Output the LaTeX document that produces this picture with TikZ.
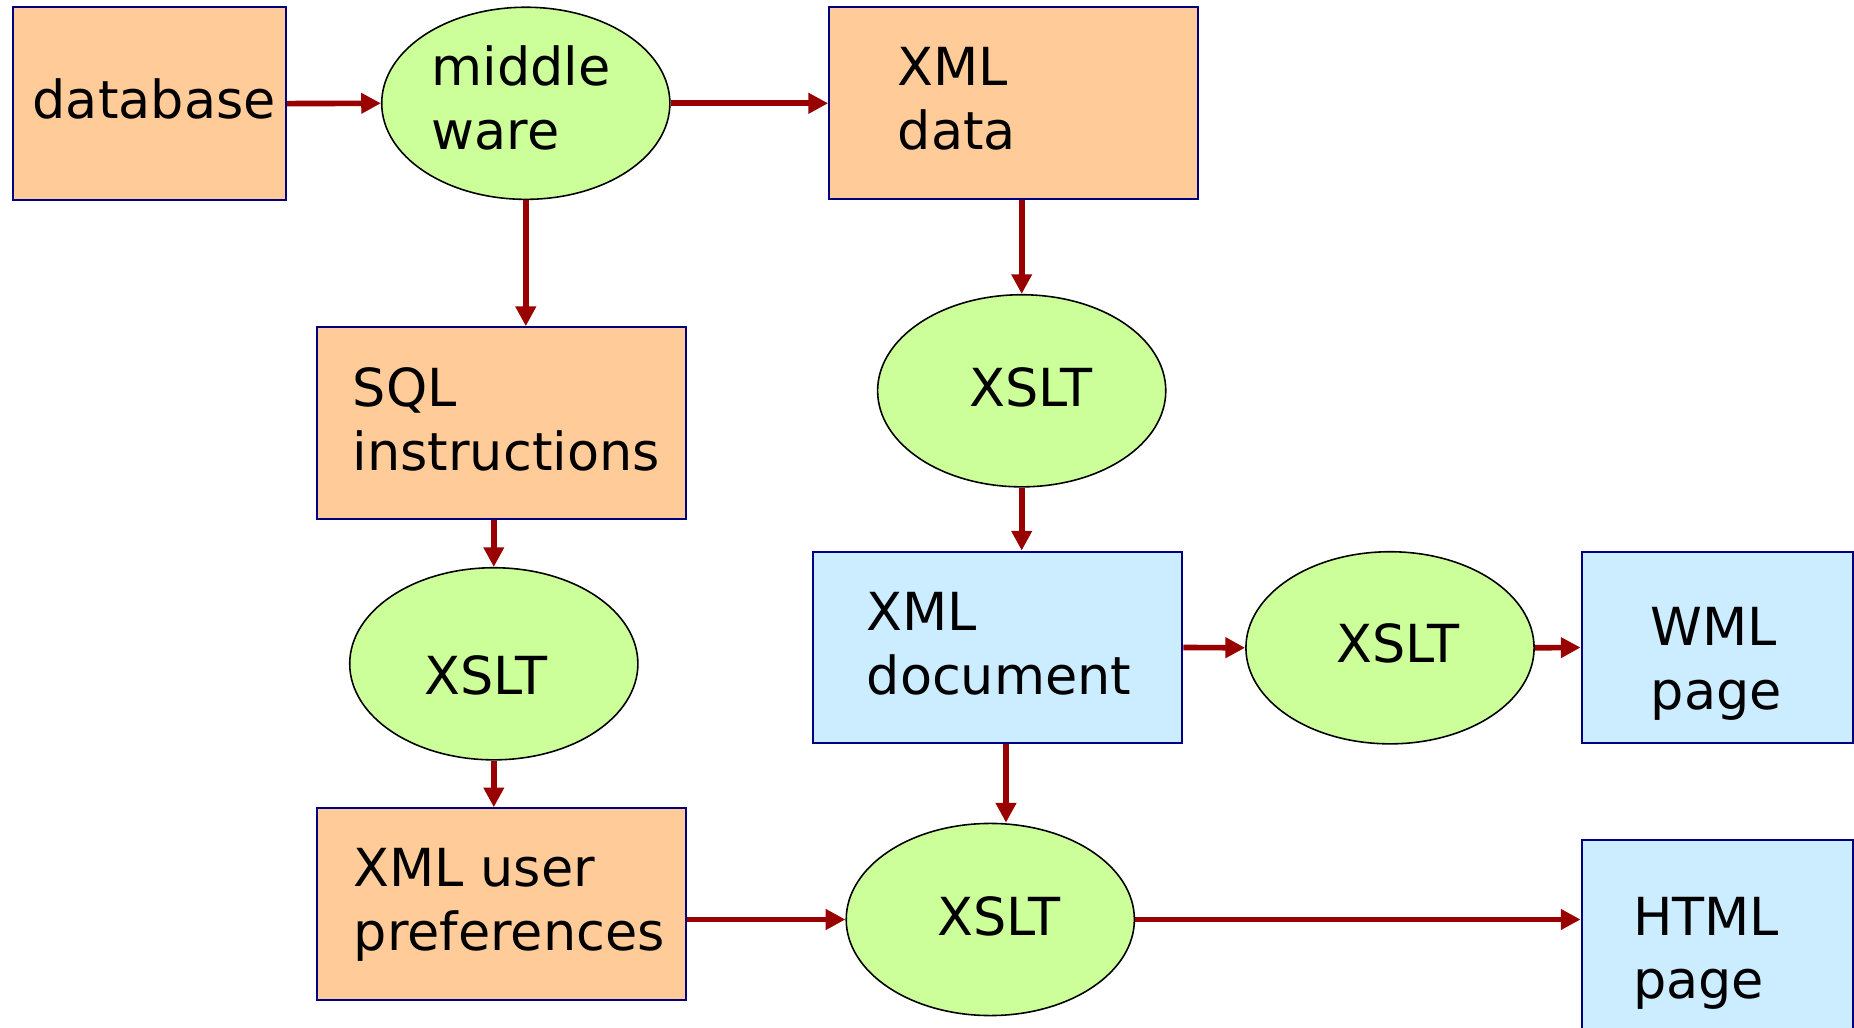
\documentclass[tikz,border=0pt]{standalone}
\usepackage{fontspec}
\setmainfont{DejaVu Sans}
\usetikzlibrary{shapes.geometric,arrows.meta}
\definecolor{boxorange}{HTML}{FFCC99}
\definecolor{boxgreen}{HTML}{CCFF99}
\definecolor{boxblue}{HTML}{CCECFF}
\definecolor{navyline}{HTML}{000080}
\definecolor{arrowred}{HTML}{990000}
\newcommand{\twolines}[2]{\vtop{\baselineskip=18.07pt\hbox{#1}\hbox{#2}}}
\begin{document}
\begin{tikzpicture}[x=0.01cm,y=-0.01cm,
  box/.style={rectangle,draw=navyline,line width=0.6pt,inner sep=0pt},
  orangebox/.style={box,fill=boxorange},
  bluebox/.style={box,fill=boxblue},
  oval/.style={ellipse,draw=black,line width=0.45pt,fill=boxgreen,inner sep=0pt,
    minimum width=2.88cm,minimum height=1.92cm},
  txt/.style={inner sep=0pt,anchor=base west,font=\fontsize{14.91pt}{18.07pt}\selectfont},
  arr/.style={draw=arrowred,line width=1.6pt,-{Triangle[length=5.6pt,width=5.6pt]},fill=arrowred}
]
\useasboundingbox (0,0) rectangle (1854,1028);
\fill[white] (0,0) rectangle (1854,1028);

% shapes
\node[orangebox,minimum width=2.727cm,minimum height=1.927cm] (db) at (149.6,103.6) {};
\node[oval] (mw) at (525.8,103.3) {};
\node[orangebox,minimum width=3.69cm,minimum height=1.92cm] (xmld) at (1013.8,103.3) {};
\node[orangebox,minimum width=3.687cm,minimum height=1.92cm] (sql) at (501.7,423.3) {};
\node[oval] (x1) at (1021.7,390.8) {};
\node[oval] (x2) at (493.8,663.8) {};
\node[bluebox,minimum width=3.69cm,minimum height=1.916cm] (xdoc) at (997.8,647.5) {};
\node[oval] (x3) at (1390,647.8) {};
\node[bluebox,minimum width=2.716cm,minimum height=1.916cm] (wml) at (1717.5,647.5) {};
\node[oval] (x4) at (990.3,919.5) {};
\node[orangebox,minimum width=3.687cm,minimum height=1.917cm] (prefs) at (501.7,904.2) {};
\node[bluebox,minimum width=2.716cm,minimum height=1.92cm] (html) at (1717.5,936.3) {};

% texts
\node[txt] (dbT) at (32,118.3) {database};
\node[txt] (mwT) at (431,86) {\twolines{middle}{ware}};
\node[txt] (xmldT) at (897,86) {\twolines{XML}{data}};
\node[txt] (sqlT) at (352,406.7) {\twolines{SQL}{instructions}};
\node[txt] (x1T) at (968.5,406.7) {XSLT};
\node[txt] (x2T) at (424,695) {XSLT};
\node[txt] (xdocT) at (866,630.7) {\twolines{XML}{document}};
\node[txt] (x3T) at (1336,662.7) {XSLT};
\node[txt] (wmlT) at (1650,646) {\twolines{WML}{page}};
\node[txt] (x4T) at (936.5,935.5) {XSLT};
\node[txt] (prefsT) at (353,886.7) {\twolines{XML user}{preferences}};
\node[txt] (htmlT) at (1632.5,935.3) {\twolines{HTML}{page}};

% connectors
\coordinate (dropx) at (1006,0);
\draw[arr] (db.east) -- (mw.west);
\draw[arr] (mw.east) -- (xmld.west);
\draw[arr] (mw.south) -- (mw.south |- sql.north);
\draw[arr] (xmld.south -| x1.north) -- (x1.north);
\draw[arr] (x1.south) -- (x1.south |- xdoc.north);
\draw[arr] (sql.south -| x2.north) -- (x2.north);
\draw[arr] (x2.south) -- (x2.south |- prefs.north);
\draw[arr] (xdoc.east) -- (x3.west);
\draw[arr] (x3.east) -- (wml.west);
\draw[arr] (xdoc.south -| dropx) -- (dropx |- x4.north);
\draw[arr] (prefs.east |- x4.west) -- (x4.west);
\draw[arr] (x4.east) -- (x4.east -| html.west);
\end{tikzpicture}
\end{document}
